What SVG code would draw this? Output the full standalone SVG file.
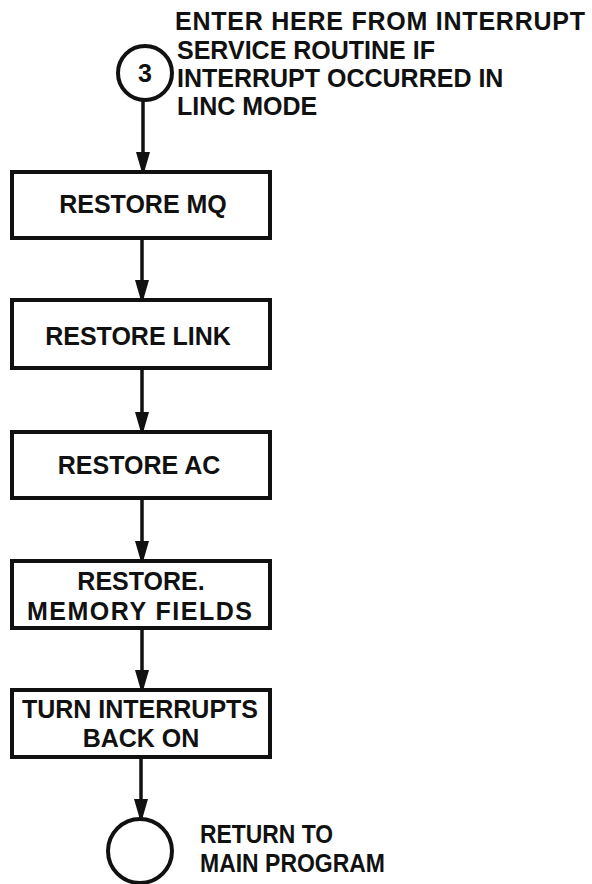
<svg xmlns="http://www.w3.org/2000/svg" width="592" height="884" viewBox="0 0 592 884">
<defs>
<style>
.t{font-family:"Liberation Sans",Arial,sans-serif;font-weight:bold;font-size:25px;fill:#111}
.m{text-anchor:middle}
.box{fill:#fff;stroke:#111;stroke-width:4}
.circ{fill:#fff;stroke:#111;stroke-width:4}
.ln{fill:none;stroke:#111;stroke-width:3.5}
</style>
<marker id="ah" viewBox="0 0 20 16" refX="20" refY="8" markerWidth="20" markerHeight="16" markerUnits="userSpaceOnUse" orient="auto">
<path d="M0,1 L20,6.8 L20,9.2 L0,15 Z" fill="#111"/>
</marker>
</defs>
<rect width="592" height="884" fill="#fff"/>
<g id="connectors">
<line class="ln" x1="143" y1="100" x2="143" y2="172" marker-end="url(#ah)"/>
<line class="ln" x1="142" y1="238" x2="142" y2="300" marker-end="url(#ah)"/>
<line class="ln" x1="142" y1="368" x2="142" y2="432" marker-end="url(#ah)"/>
<line class="ln" x1="142" y1="498" x2="142" y2="561" marker-end="url(#ah)"/>
<line class="ln" x1="142" y1="628" x2="142" y2="690" marker-end="url(#ah)"/>
<line class="ln" x1="141" y1="757" x2="141" y2="819" marker-end="url(#ah)"/>
</g>
<g id="start">
<circle class="circ" cx="145" cy="73" r="27"/>
<text class="t m" x="145" y="82">3</text>
<text class="t" x="175" y="30" textLength="410" lengthAdjust="spacing">ENTER HERE FROM INTERRUPT</text>
<text class="t" x="177" y="59">SERVICE ROUTINE IF</text>
<text class="t" x="177" y="87">INTERRUPT OCCURRED IN</text>
<text class="t" x="177" y="115">LINC MODE</text>
</g>
<g id="restore-mq">
<rect class="box" x="12" y="172" width="258" height="66"/>
<text class="t m" x="143" y="213">RESTORE MQ</text>
</g>
<g id="restore-link">
<rect class="box" x="12" y="300" width="258" height="68"/>
<text class="t m" x="138" y="345">RESTORE LINK</text>
</g>
<g id="restore-ac">
<rect class="box" x="12" y="432" width="258" height="66"/>
<text class="t m" x="139" y="474">RESTORE AC</text>
</g>
<g id="restore-memory">
<rect class="box" x="12" y="561" width="258" height="67"/>
<text class="t m" x="141" y="590">RESTORE.</text>
<text class="t" x="27" y="620" textLength="225" lengthAdjust="spacing">MEMORY FIELDS</text>
</g>
<g id="interrupts-on">
<rect class="box" x="12" y="690" width="258" height="67"/>
<text class="t m" x="140" y="718">TURN INTERRUPTS</text>
<text class="t m" x="141" y="747">BACK ON</text>
</g>
<g id="end">
<circle class="circ" cx="140" cy="851" r="32"/>
<text class="t" x="200" y="843" textLength="133" lengthAdjust="spacingAndGlyphs">RETURN TO</text>
<text class="t" x="200" y="872" textLength="185" lengthAdjust="spacingAndGlyphs">MAIN PROGRAM</text>
</g>
</svg>
